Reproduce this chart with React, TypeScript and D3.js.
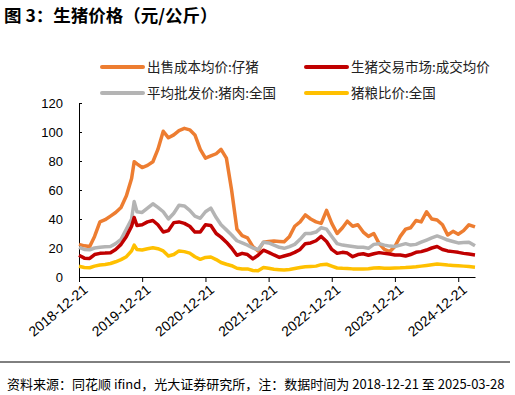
import React, { useRef, useEffect } from 'react';
import { select, scaleTime, scaleLinear, axisBottom, axisLeft, line, timeParse } from 'd3';

// x categories (weekly data sampled roughly monthly)
const dates = [
  '2018-12-21',
  '2019-01-21', '2019-02-21', '2019-03-21', '2019-04-21', '2019-05-21', '2019-06-21',
  '2019-07-21', '2019-08-21', '2019-09-21', '2019-10-21', '2019-11-05', '2019-11-21', '2019-12-21',
  '2020-01-21', '2020-02-21', '2020-03-21', '2020-04-21', '2020-05-21', '2020-06-21',
  '2020-07-21', '2020-08-21', '2020-09-21', '2020-10-21', '2020-11-21', '2020-12-21',
  '2021-01-21', '2021-02-21', '2021-03-21', '2021-04-21', '2021-05-21', '2021-06-21',
  '2021-07-21', '2021-08-21', '2021-09-21', '2021-10-21', '2021-11-21', '2021-12-21',
  '2022-01-21', '2022-02-21', '2022-03-21', '2022-04-21', '2022-05-21', '2022-06-21',
  '2022-07-21', '2022-08-21', '2022-09-21', '2022-10-21', '2022-11-21', '2022-12-21',
  '2023-01-21', '2023-02-21', '2023-03-21', '2023-04-21', '2023-05-21', '2023-06-21',
  '2023-07-21', '2023-08-21', '2023-09-21', '2023-10-21', '2023-11-21', '2023-12-21',
  '2024-01-21', '2024-02-21', '2024-03-21', '2024-04-21', '2024-05-21', '2024-06-21',
  '2024-07-21', '2024-08-21', '2024-09-21', '2024-10-21', '2024-11-21', '2024-12-21',
  '2025-01-21', '2025-02-21', '2025-03-28',
];

// 出售成本均价:仔猪
const pigletCost = [
  22.5, 21.5, 21, 28, 38, 39.5, 42, 44.5, 48, 56, 68, 79.5,
  78, 75.5, 77, 79.5, 88, 100.5, 96, 98, 101, 102.5, 101.5, 98, 88, 82, 83.5,
  85, 88, 82, 60, 33, 28.5, 27, 21, 18, 24, 24.5, 24.8, 24.5, 24.3, 28,
  35, 38, 42.8, 40, 38, 37, 46, 37, 30, 34, 38.5, 35, 36, 31, 28,
  30, 23, 19, 17.5, 21, 28, 33, 34, 39, 38, 45, 40, 39.3, 36, 29,
  31.5, 29.5, 32, 36, 34.5,
];

// 生猪交易市场:成交均价
const hogPrice = [
  15, 13, 12.8, 15.5, 16.3, 16.5, 16.8, 19, 22.5, 28, 35, 41,
  35.5, 36, 38, 39, 36, 31, 32, 37.5, 38, 37, 35, 31, 31, 36, 35.5,
  30, 27.5, 24, 20, 15, 16.3, 15.5, 12.5, 15, 18.5, 17, 15.2, 13.5, 14.5, 15.5,
  17, 19, 23, 23.5, 25, 28, 24.5, 19, 16.3, 17, 16.5, 14, 15.5, 16, 15,
  16, 16.8, 16.3, 15.8, 15.2, 15.2, 14.5, 15.5, 17, 17.5, 18.6, 20, 21, 19, 18,
  17.5, 17, 16.3, 15.8, 15.2,
];

// 平均批发价:猪肉:全国
const porkWholesale = [
  20.5, 19, 18.8, 20, 20.5, 20.8, 21, 23, 26, 33, 40, 52,
  45, 44.5, 47.5, 50.5, 48, 45, 40, 44, 49.5, 49, 46, 42, 40.5, 45, 47.5,
  41, 36, 32.5, 29, 25, 23.5, 22, 20, 19, 24, 23.5, 22, 20.5, 19.8, 21,
  22.5, 26, 30, 30, 31, 34, 33, 28, 23, 22, 21.5, 21, 20.5, 20.5, 19.8,
  22.5, 23, 22, 21.3, 21, 22, 23, 22, 22.5, 24, 25.5, 27, 28.3, 27, 25.5,
  24.5, 23.5, 23.8, 24, 21.5,
];

// 猪粮比价:全国
const hogGrainRatio = [
  7.4, 6.6, 6.4, 7.5, 8.3, 8.6, 9.3, 10.5, 12, 14, 18, 22,
  19, 18.6, 19.5, 20.2, 19.5, 18, 14.5, 15.5, 18, 17.5, 16.5, 14, 12.2, 13.5, 13.8,
  12, 10, 8.8, 7.8, 6, 5.5, 5.6, 4.5, 4.3, 6.5, 6, 5.3, 5, 4.8, 5.2,
  5.8, 6.5, 7, 7.3, 7.5, 8.5, 8.8, 7.5, 6.2, 6, 5.9, 5.6, 5.5, 5.5, 5.7,
  6.2, 6.3, 6, 6, 6.2, 6.3, 6.5, 6.8, 7, 7.5, 8, 8.5, 9, 8.6, 8.2,
  8, 7.8, 7.5, 7.2, 6.8,
];

const xTicks = ['2018-12-21', '2019-12-21', '2020-12-21', '2021-12-21', '2022-12-21', '2023-12-21', '2024-12-21'];
const yTicks = [0, 20, 40, 60, 80, 100, 120];

const seriesNames = ['出售成本均价:仔猪', '生猪交易市场:成交均价', '平均批发价:猪肉:全国', '猪粮比价:全国'];
const seriesColors = ['#ED7D31', '#C00000', '#B4B4B4', '#FFC000'];

const cjk = '"Noto Sans CJK SC", "Noto Sans", sans-serif';
const latin = '"Liberation Sans", Arial, sans-serif';

const App = () => {
  const svgRef = useRef(null);

  useEffect(() => {
    const width = 515;
    const height = 395;
    const margin = { top: 103, right: 40, bottom: 118, left: 79 };

    const parse = timeParse('%Y-%m-%d');
    const xValues = dates.map(d => parse(d));

    const xScale = scaleTime()
      .domain([parse('2018-12-21'), parse('2025-03-28')])
      .range([margin.left, width - margin.right]);

    const yScale = scaleLinear()
      .domain([0, 120])
      .range([height - margin.bottom, margin.top]);

    const svgEl = select(svgRef.current);
    svgEl.selectAll('*').remove();

    // title
    svgEl.append('text')
      .attr('x', 4)
      .attr('y', 22)
      .style('font-family', cjk)
      .style('font-size', '17.5px')
      .style('font-weight', 'bold')
      .attr('fill', '#000')
      .text('图 3：生猪价格（元/公斤）');

    // legend
    const legendPos = [
      { x: 102, y: 67 }, { x: 306, y: 67 },
      { x: 102, y: 93 }, { x: 306, y: 93 },
    ];
    const legend = svgEl.append('g');
    seriesNames.forEach((name, i) => {
      const p = legendPos[i];
      legend.append('line')
        .attr('x1', p.x).attr('x2', p.x + 41)
        .attr('y1', p.y).attr('y2', p.y)
        .attr('stroke', seriesColors[i])
        .attr('stroke-width', 4)
        .attr('stroke-linecap', 'round');
      legend.append('text')
        .attr('x', p.x + 45)
        .attr('y', p.y + 4.5)
        .style('font-family', cjk)
        .style('font-size', '13.5px')
        .attr('fill', '#222')
        .text(name);
    });

    // x-axis
    const xAxis = axisBottom(xScale)
      .tickValues(xTicks.map(d => parse(d)))
      .tickFormat((d, i) => xTicks[i])
      .tickSize(5)
      .tickSizeOuter(0);

    const xAxisGroup = svgEl.append('g')
      .attr('transform', `translate(0, ${height - margin.bottom})`)
      .call(xAxis);

    xAxisGroup.select('.domain').attr('stroke', '#000');
    xAxisGroup.selectAll('line').attr('stroke', '#000');
    xAxisGroup.selectAll('text')
      .attr('fill', '#000')
      .style('font-family', latin)
      .style('font-size', '14px')
      .attr('text-anchor', 'end')
      .attr('dy', '0')
      .attr('transform', 'translate(4, 8) rotate(-40)');

    // y-axis
    const yAxis = axisLeft(yScale)
      .tickValues(yTicks)
      .tickSize(-3)
      .tickPadding(16)
      .tickSizeOuter(0);

    const yAxisGroup = svgEl.append('g')
      .attr('transform', `translate(${margin.left}, 0)`)
      .call(yAxis);

    yAxisGroup.select('.domain').attr('stroke', '#000');
    yAxisGroup.selectAll('line').attr('stroke', '#000');
    yAxisGroup.selectAll('text')
      .attr('fill', '#000')
      .style('font-family', latin)
      .style('font-size', '13px');

    // data lines
    const allSeries = [pigletCost, porkWholesale, hogPrice, hogGrainRatio];
    const allColors = [seriesColors[0], seriesColors[2], seriesColors[1], seriesColors[3]];

    const chartLine = line()
      .x((d, i) => xScale(xValues[i]))
      .y(d => yScale(d));

    svgEl.append('g')
      .selectAll('path')
      .data(allSeries)
      .enter()
      .append('path')
      .attr('fill', 'none')
      .attr('stroke', (d, i) => allColors[i])
      .attr('stroke-width', 3.5)
      .attr('stroke-linejoin', 'round')
      .attr('d', d => chartLine(d));

    // footer
    svgEl.append('line')
      .attr('x1', 0).attr('x2', 510)
      .attr('y1', 362).attr('y2', 362)
      .attr('stroke', '#000')
      .attr('stroke-width', 1);

    svgEl.append('text')
      .attr('x', 7)
      .attr('y', 389)
      .style('font-family', cjk)
      .style('font-size', '13px')
      .attr('fill', '#000')
      .text('资料来源：同花顺 ifind，光大证券研究所，注：数据时间为 2018-12-21 至 2025-03-28');
  }, []);

  return (
    <div style={{ position: 'absolute', left: 0, top: 0, width: 515, height: 395, background: '#fff' }}>
      <svg ref={svgRef} width={515} height={395}></svg>
    </div>
  );
};

export default App;
